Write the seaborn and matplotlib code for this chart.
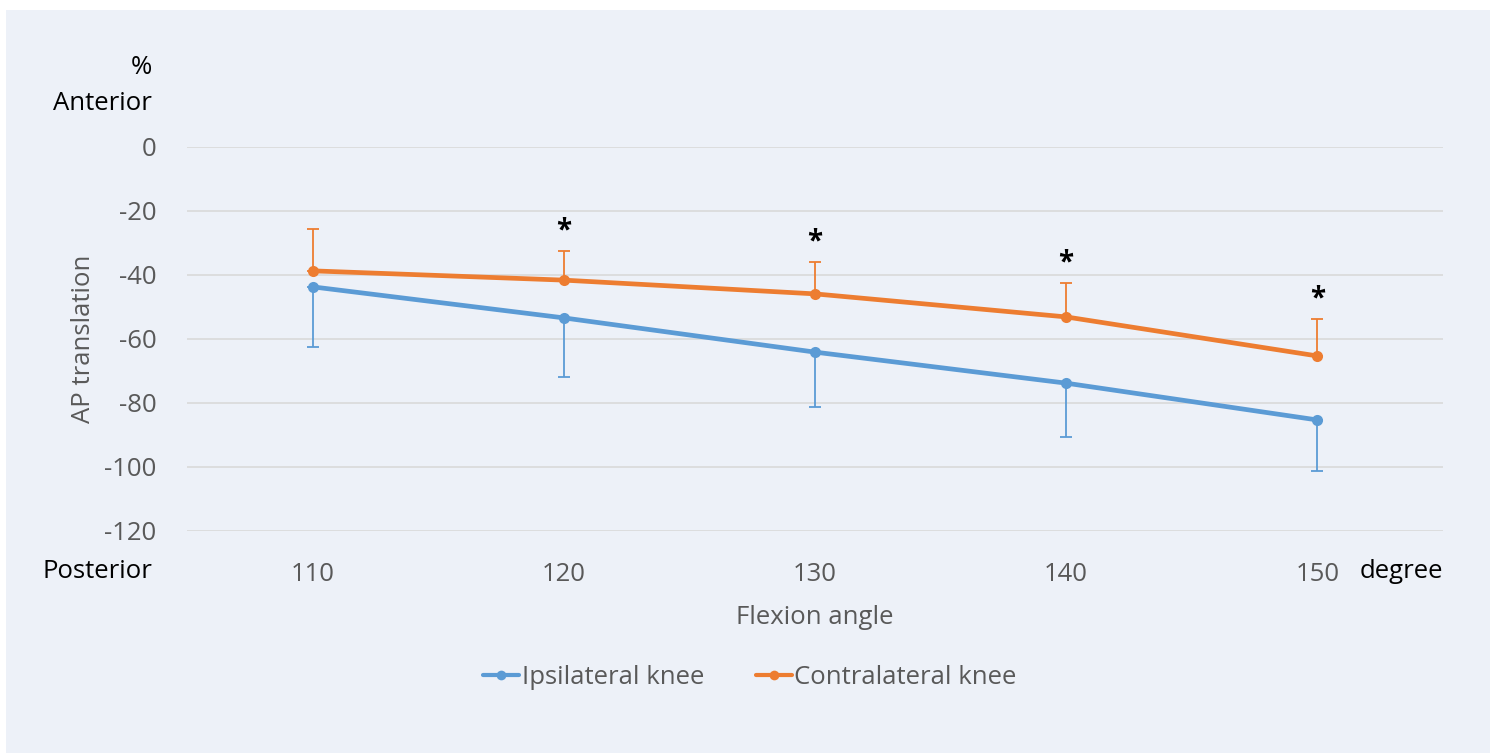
import matplotlib
matplotlib.use("Agg")
import matplotlib.pyplot as plt
import seaborn as sns
import pandas as pd
import numpy as np
from matplotlib.patches import Rectangle

angles = [110, 120, 130, 140, 150]
ipsi_mean = [-43.7, -53.4, -64.1, -73.8, -85.3]
ipsi_sd = [18.7, 18.4, 17.2, 16.9, 15.9]
contra_mean = [-38.7, -41.6, -45.9, -53.1, -65.3]
contra_sd = [13.1, 9.1, 10.0, 10.6, 11.6]
series_names = ["Ipsilateral knee", "Contralateral knee"]
signif = [False, True, True, True, True]

BLUE = "#5B9BD5"
ORANGE = "#ED7D31"
PANEL = "#EDF1F8"
GRID = "#D9D9D9"
TXT = "#595959"
FS = 18.5

sns.set_theme(style="white")
plt.rcParams["font.family"] = ["Open Sans", "DejaVu Sans"]
plt.rcParams["axes.unicode_minus"] = False

fig = plt.figure(figsize=(14.97, 7.53), dpi=100, facecolor="white")
fig.patches.append(Rectangle((6 / 1497, 0), (1490 - 6) / 1497, (753 - 10) / 753,
                             transform=fig.transFigure, facecolor=PANEL,
                             edgecolor="none", zorder=-10))
ax = fig.add_axes([187 / 1497, 1 - 531 / 753, (1443 - 187) / 1497, (531 - 147) / 753])
ax.set_zorder(2)
ax.set_facecolor("none")

df = pd.DataFrame({
    "angle": angles * 2,
    "value": ipsi_mean + contra_mean,
    "series": [series_names[0]] * 5 + [series_names[1]] * 5,
})

# error bars (one-sided)
ax.errorbar(angles, ipsi_mean, yerr=[ipsi_sd, [0] * 5], fmt="none", ecolor=BLUE,
            elinewidth=1.3, capsize=4.5, capthick=1.3, zorder=2)
ax.errorbar(angles, contra_mean, yerr=[[0] * 5, contra_sd], fmt="none", ecolor=ORANGE,
            elinewidth=1.3, capsize=4.5, capthick=1.3, zorder=2)

sns.lineplot(data=df, x="angle", y="value", hue="series", palette=[BLUE, ORANGE],
             marker="o", markersize=8, markeredgewidth=0, linewidth=3.4, ax=ax, zorder=3,
             legend=True)

for a, m, s, sig in zip(angles, contra_mean, contra_sd, signif):
    if sig:
        ax.annotate("*", (a, m + s), xytext=(0, 4), textcoords="offset points",
                    ha="center", va="bottom", fontsize=20, fontweight="bold", color="black")

ax.set_xlim(105, 155)
ax.set_ylim(-120, 0)
ax.set_yticks(np.arange(-120, 1, 20))
ax.set_xticks(angles)
ax.yaxis.grid(True, color=GRID, linewidth=1.2)
ax.xaxis.grid(False)
for sp in ax.spines.values():
    sp.set_visible(False)
ax.tick_params(axis="both", length=0, labelsize=FS, labelcolor=TXT)
ax.tick_params(axis="y", pad=22)
ax.tick_params(axis="x", pad=22)

ax.set_xlabel("Flexion angle", fontsize=FS, color=TXT, labelpad=13)
ax.set_ylabel("AP translation", fontsize=FS, color=TXT, labelpad=6)

fig.text(152 / 1497, 1 - 571 / 753, "Posterior", ha="right", va="center", fontsize=FS, color="black")
fig.text(152 / 1497, 1 - 103 / 753, "Anterior", ha="right", va="center", fontsize=FS, color="black")
fig.text(152 / 1497, 1 - 67 / 753, "%", ha="right", va="center", fontsize=FS, color="black")
fig.text(1360 / 1497, 1 - 571 / 753, "degree", ha="left", va="center", fontsize=FS, color="black")

leg = ax.legend(loc="center", bbox_to_anchor=(750 / 1497, 1 - 677 / 753),
                bbox_transform=fig.transFigure, ncol=2, frameon=False, fontsize=FS,
                handlelength=1.4, handletextpad=0.1, columnspacing=2.0, title=None)
for t in leg.get_texts():
    t.set_color(TXT)
for h in leg.legend_handles:
    h.set_markersize(7)
    h.set_linewidth(3)

fig.savefig("out.png", dpi=100, facecolor="white")
